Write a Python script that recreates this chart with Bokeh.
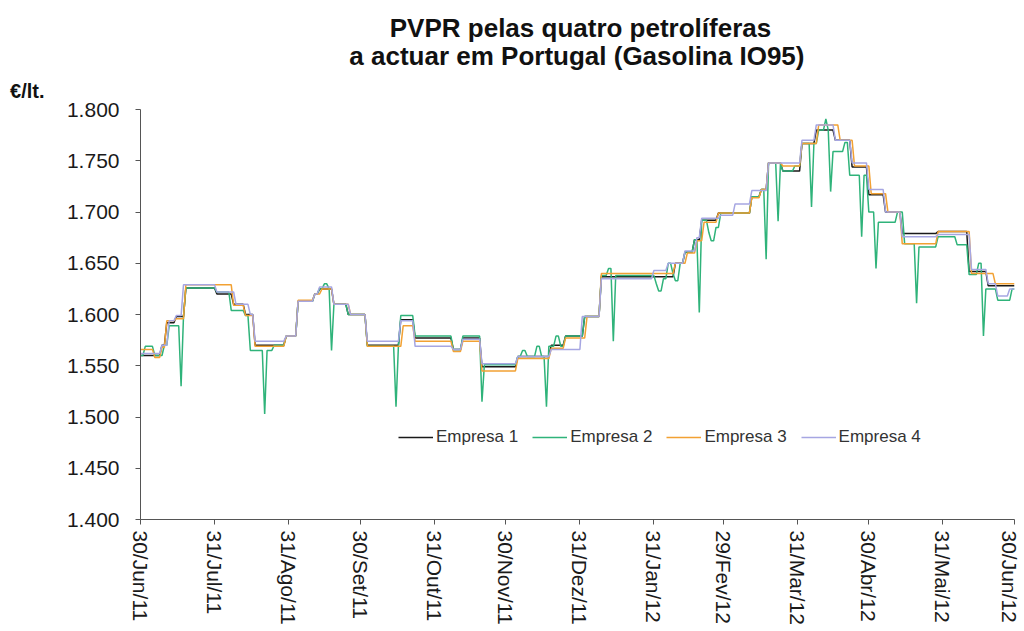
import numpy as np
import pandas as pd
from bokeh.plotting import figure
from bokeh.models import (FixedTicker, NumeralTickFormatter, Legend, LegendItem,
                          Range1d, LinearAxis, ColumnDataSource)
from bokeh.core.properties import value
from bokeh.embed import file_html
from bokeh.resources import INLINE

START = "2011-06-30"
END = "2012-06-30"
TICK_DATES = ["2011-06-30", "2011-07-31", "2011-08-31", "2011-09-30", "2011-10-31",
              "2011-11-30", "2011-12-31", "2012-01-31", "2012-02-29", "2012-03-31",
              "2012-04-30", "2012-05-31", "2012-06-30"]
TICK_LABELS = ["30/Jun/11", "31/Jul/11", "31/Ago/11", "30/Set/11", "31/Out/11",
               "30/Nov/11", "31/Dez/11", "31/Jan/12", "29/Fev/12", "31/Mar/12",
               "30/Abr/12", "31/Mai/12", "30/Jun/12"]
Y_TICKS = [1.40, 1.45, 1.50, 1.55, 1.60, 1.65, 1.70, 1.75, 1.80]
Y_MIN, Y_MAX = 1.40, 1.80

TITLE_LINES = ["PVPR pelas quatro petrolíferas", "a actuar em  Portugal (Gasolina IO95)"]
UNIT_LABEL = "€/lt."
SERIES_NAMES = ["Empresa 1", "Empresa 2", "Empresa 3", "Empresa 4"]

# price change points: day offset from 30/Jun/11 -> new price (EUR/l)
E1_DAYS = [0, 9, 11, 15, 19, 32, 39, 44, 48, 61, 66, 73, 75, 81, 87, 95, 109, 115,
           131, 135, 143, 158, 172, 178, 186, 193, 224, 228, 232, 235, 242, 256,
           260, 263, 269, 277, 283, 291, 298, 305, 312, 319, 334, 347, 355]
E1_VALS = [1.560, 1.570, 1.592, 1.598, 1.626, 1.620, 1.610, 1.600, 1.570, 1.579,
           1.613, 1.620, 1.625, 1.610, 1.600, 1.570, 1.595, 1.577, 1.566, 1.577,
           1.549, 1.559, 1.570, 1.579, 1.598, 1.637, 1.650, 1.661, 1.673, 1.692,
           1.699, 1.715, 1.722, 1.748, 1.740, 1.767, 1.780, 1.770, 1.744, 1.717,
           1.700, 1.679, 1.681, 1.642, 1.628]

E2_DAYS = [0, 2, 6, 10, 12, 17, 18, 19, 32, 38, 44, 46, 52, 53, 56, 61, 66, 73, 75,
           77, 79, 80, 81, 87, 95, 107, 108, 109, 115, 131, 135, 143, 144, 158, 160,
           162, 166, 168, 170, 171, 174, 176, 178, 186, 193, 196, 198, 199, 216, 217,
           219, 221, 223, 224, 226, 228, 232, 234, 235, 238, 239, 241, 243, 256, 260,
           262, 263, 267, 268, 269, 274, 277, 281, 282, 284, 287, 288, 289, 290, 295,
           297, 302, 303, 305, 308, 309, 317, 320, 325, 326, 334, 342, 347, 351, 353,
           354, 359, 365]
E2_VALS = [1.560, 1.569, 1.560, 1.570, 1.589, 1.530, 1.598, 1.626, 1.622, 1.604,
           1.599, 1.565, 1.503, 1.565, 1.570, 1.579, 1.613, 1.620, 1.625, 1.630,
           1.625, 1.565, 1.610, 1.600, 1.569, 1.510, 1.569, 1.599, 1.579, 1.566,
           1.579, 1.515, 1.551, 1.559, 1.565, 1.559, 1.569, 1.559, 1.510, 1.569,
           1.579, 1.569, 1.579, 1.598, 1.638, 1.645, 1.574, 1.638, 1.630, 1.623,
           1.635, 1.650, 1.640, 1.633, 1.650, 1.661, 1.673, 1.602, 1.692, 1.680,
           1.672, 1.685, 1.699, 1.715, 1.722, 1.654, 1.748, 1.691, 1.748, 1.740,
           1.745, 1.767, 1.705, 1.767, 1.780, 1.791, 1.780, 1.720, 1.759, 1.768,
           1.736, 1.676, 1.736, 1.700, 1.645, 1.690, 1.700, 1.669, 1.611, 1.666,
           1.676, 1.668, 1.639, 1.650, 1.579, 1.625, 1.614, 1.625]

E3_DAYS = [0, 6, 9, 11, 15, 19, 39, 44, 48, 61, 66, 73, 76, 81, 88, 95, 110, 115,
           131, 135, 143, 158, 172, 178, 187, 193, 224, 229, 233, 236, 242, 256, 260,
           263, 269, 277, 284, 293, 299, 306, 313, 319, 334, 348, 358]
E3_VALS = [1.566, 1.558, 1.568, 1.594, 1.596, 1.629, 1.609, 1.599, 1.569, 1.579,
           1.614, 1.620, 1.625, 1.610, 1.600, 1.569, 1.589, 1.574, 1.564, 1.574,
           1.545, 1.557, 1.567, 1.577, 1.598, 1.640, 1.650, 1.660, 1.672, 1.690,
           1.699, 1.714, 1.722, 1.748, 1.745, 1.767, 1.785, 1.770, 1.745, 1.718,
           1.700, 1.669, 1.681, 1.640, 1.630]

E4_DAYS = [0, 9, 12, 15, 18, 32, 40, 46, 48, 61, 66, 73, 75, 81, 88, 95, 109, 115,
           131, 135, 143, 158, 172, 185, 193, 215, 221, 228, 233, 235, 243, 249, 256,
           263, 277, 283, 291, 298, 305, 312, 319, 334, 348, 355, 359, 364]
E4_VALS = [1.562, 1.570, 1.594, 1.599, 1.629, 1.622, 1.610, 1.600, 1.574, 1.579,
           1.613, 1.620, 1.627, 1.610, 1.600, 1.574, 1.594, 1.569, 1.566, 1.576,
           1.552, 1.559, 1.566, 1.598, 1.635, 1.643, 1.650, 1.662, 1.675, 1.694,
           1.697, 1.708, 1.721, 1.748, 1.770, 1.785, 1.770, 1.748, 1.722, 1.700,
           1.676, 1.678, 1.644, 1.630, 1.618, 1.625]

COLORS = ["#1a1a1a", "#2fb37a", "#f2a133", "#a6a6e2"]
FONT = "Liberation Sans"

# ---- layout (pixels) ----
W, H = 1020, 628
LEFT, RIGHT_EDGE = 140, 1014
FRAME_TOP_PX = 8            # frame extended upward to host the title text
AXIS_TOP_PX, AXIS_BOT_PX = 109.3, 520.0
px_per_unit = (AXIS_BOT_PX - AXIS_TOP_PX) / (Y_MAX - Y_MIN)
Y_TOP = Y_MAX + (AXIS_TOP_PX - FRAME_TOP_PX) / px_per_unit


def y_at(px):
    return Y_MIN + (AXIS_BOT_PX - px) / px_per_unit


N = (pd.Timestamp(END) - pd.Timestamp(START)).days + 1
days = np.arange(N)


def daily(change_days, change_vals):
    # each day's price = last announced price (prices hold until they change)
    out = np.empty(N)
    for i, (d, v) in enumerate(zip(change_days, change_vals)):
        end = change_days[i + 1] if i + 1 < len(change_days) else N
        out[d:end] = v
    return out


series = [daily(E1_DAYS, E1_VALS), daily(E2_DAYS, E2_VALS),
          daily(E3_DAYS, E3_VALS), daily(E4_DAYS, E4_VALS)]

tick_pos = [int((pd.Timestamp(t) - pd.Timestamp(START)).days) for t in TICK_DATES]

p = figure(width=W, height=H, output_backend="svg", toolbar_location=None,
           x_range=Range1d(0, N - 1), y_range=Range1d(Y_MIN, Y_TOP),
           min_border_left=LEFT, min_border_right=W - RIGHT_EDGE,
           min_border_top=FRAME_TOP_PX, min_border_bottom=H - int(AXIS_BOT_PX),
           tools="")
p.outline_line_color = None
p.xgrid.grid_line_color = None
p.ygrid.grid_line_color = None
p.background_fill_color = "white"
p.border_fill_color = "white"

renderers = []
for vals, c in zip(series, COLORS):
    r = p.line(days, vals, line_color=c, line_width=1.5)
    renderers.append(r)

xa = p.xaxis[0]
xa.ticker = FixedTicker(ticks=tick_pos, minor_ticks=[])
xa.major_label_overrides = {t: lab for t, lab in zip(tick_pos, TICK_LABELS)}
xa.major_label_orientation = "vertical"
xa.major_label_text_font = FONT
xa.major_label_text_font_size = "21px"
xa.major_label_text_color = "#1a1a1a"
xa.major_label_standoff = 6
xa.major_tick_out = 5
xa.major_tick_in = 0
xa.minor_tick_out = 0
xa.minor_tick_in = 0
xa.axis_line_color = "#555555"
xa.major_tick_line_color = "#555555"

ya = p.yaxis[0]
ya.bounds = (Y_MIN, Y_MAX)
ya.ticker = FixedTicker(ticks=Y_TICKS, minor_ticks=[])
ya.formatter = NumeralTickFormatter(format="0.000")
ya.major_label_text_font = FONT
ya.major_label_text_font_size = "21px"
ya.major_label_text_color = "#1a1a1a"
ya.major_label_standoff = 16
ya.major_tick_out = 5
ya.major_tick_in = 0
ya.minor_tick_out = 0
ya.minor_tick_in = 0
ya.axis_line_color = "#555555"
ya.major_tick_line_color = "#555555"

# unit label "€/lt." as the single label of an outer, line-less left axis
unit_y = 1.818
unit_axis = LinearAxis(ticker=FixedTicker(ticks=[unit_y], minor_ticks=[]),
                       major_label_overrides={unit_y: UNIT_LABEL},
                       axis_line_color=None, major_tick_line_color=None,
                       major_tick_out=0, major_tick_in=0, minor_tick_out=0,
                       minor_tick_in=0, major_label_standoff=19,
                       major_label_text_font=FONT,
                       major_label_text_font_size="20px",
                       major_label_text_font_style="bold",
                       major_label_text_color="#111111")
p.add_layout(unit_axis, "left")

items = [LegendItem(label=n, renderers=[r]) for n, r in zip(SERIES_NAMES, renderers)]
legend = Legend(items=items, orientation="horizontal", location=(258, 72),
                padding=0, margin=0, spacing=14, glyph_width=35, glyph_height=20,
                label_standoff=3, label_text_font=FONT, label_text_font_size="17px",
                label_text_color="#333333", border_line_color=None,
                background_fill_alpha=0)
p.add_layout(legend)

title_src = ColumnDataSource(dict(
    x=[(580 - LEFT) / (RIGHT_EDGE - LEFT) * (N - 1)] * 2,
    y=[y_at(28), y_at(56)],
    text=TITLE_LINES))
p.text(x="x", y="y", text="text", source=title_src, text_align="center",
       text_baseline="middle", text_font=value(FONT), text_font_size="26px",
       text_font_style="bold", text_color="#111111")

open("out.html", "w").write(file_html(p, INLINE))
